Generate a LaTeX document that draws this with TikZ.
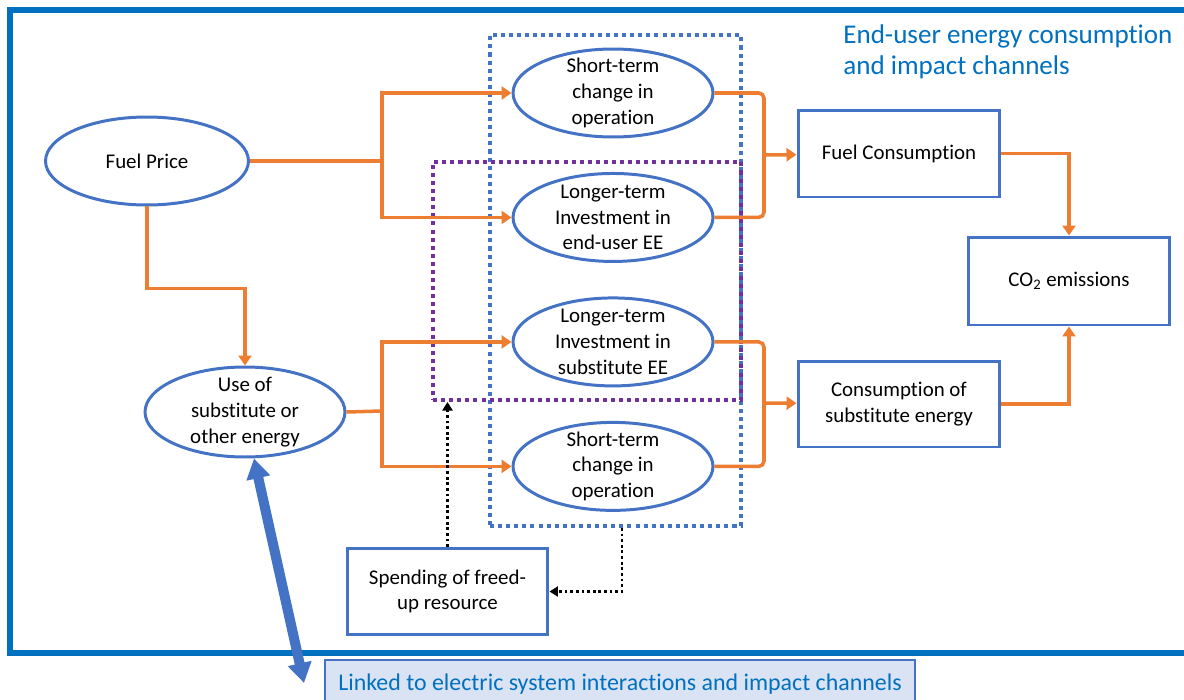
\documentclass[tikz,border=0pt]{standalone}
\usepackage{fontspec}
\setmainfont{Carlito}[Ligatures = NoCommon]
\usetikzlibrary{arrows.meta, positioning, shapes.geometric, calc}
\definecolor{OfficeBlue}{RGB}{68, 114, 196}
\definecolor{OfficeOrange}{RGB}{237, 125, 49}
\definecolor{OfficePurple}{RGB}{112, 48, 160}
\definecolor{FrameBlue}{RGB}{0, 112, 192}
\definecolor{LinkFill}{RGB}{218, 227, 243}

\begin{document}
\begin{tikzpicture}[
        x = 0.02cm, y = -0.02cm,
        oval/.style = {
            ellipse,
            draw = OfficeBlue,
            line width = 1.7pt,
            minimum width = 4cm,
            minimum height = 1.76cm,
            inner xsep = 0pt,
            inner ysep = -8pt,
            align = center,
            font = \fontsize{11.9}{14.7}\selectfont
        },
        box/.style = {
            rectangle,
            draw = OfficeBlue,
            line width = 1.7pt,
            minimum width = 4.04cm,
            minimum height = 1.74cm,
            align = center,
            font = \fontsize{11.9}{14.5}\selectfont
        },
        dotbox/.style = {
            rectangle,
            line width = 2.3pt,
            dash pattern = on 2.3pt off 2.3pt,
            inner sep = 0pt
        },
        fline/.style = {
            line width = 2pt,
            OfficeOrange
        },
        farr/.style = {
            fline,
            -{Triangle[length = 2mm, width = 2.6mm]}
        },
        darr/.style = {
            -{Triangle[length = 1.7mm, width = 2mm]},
            line width = 1.6pt,
            dash pattern = on 1.6pt off 1.6pt
        },
        barr/.style = {
            {Triangle[length = 4mm, width = 4.6mm]}-{Triangle[length = 4mm, width = 4.6mm]},
            line width = 0.2cm,
            OfficeBlue
        },
        node distance = 0.67cm
    ]
        \useasboundingbox (0,0) rectangle (1184,700);

        % frame and title
        \draw[FrameBlue, line width = 3.4pt] (1190,10) -| (10,653) -- (1190,653);
        \node[anchor = west, align = left, inner sep = 0pt, text = FrameBlue,
            font = \fontsize{15.4}{17.6}\selectfont] (title) at (843,52)
            {End-user energy consumption\\and impact channels};

        % dotted groups
        \node[dotbox, draw = OfficeBlue, minimum width = 5.02cm, minimum height = 9.82cm] (opbox) at (615.5,280.5) {};
        \node[dotbox, draw = OfficePurple, minimum width = 6.16cm, minimum height = 4.76cm] (eebox) at (587,281) {};

        % left side
        \node[oval, minimum width = 4.06cm] (fuel) at (147,161) {Fuel Price};
        \node[oval, minimum height = 1.8cm] (use) at (245,412) {Use of\\substitute or\\other energy};

        % response channels
        \node[oval] (st1) at (613,93) {Short-term\\change in\\operation};
        \node[oval, below = of st1] (lt1) {Longer-term\\Investment in\\end-user EE};
        \node[oval, below = of lt1] (lt2) {Longer-term\\Investment in\\substitute EE};
        \node[oval, below = of lt2] (st2) {Short-term\\change in\\operation};

        % outcomes
        \node[box] (fcons) at (899,153.5) {Fuel Consumption};
        \node[box, minimum height = 1.72cm] (subcons) at (899,404) {Consumption of\\substitute energy};
        \node[box, minimum height = 1.76cm] (co2) at (1069,281) {CO\textsubscript{2} emissions};
        \node[box, minimum width = 4.02cm, minimum height = 1.72cm] (spend) at (447.5,591.5) {Spending of freed-\\up resource};

        \node[rectangle, draw = OfficeBlue, line width = 1.2pt, fill = LinkFill, text = FrameBlue,
            minimum width = 11.8cm, minimum height = 0.96cm,
            font = \fontsize{13.6}{15}\selectfont] (link) at (620,684)
            {Linked to electric system interactions and impact channels};

        \coordinate (fork1) at (382,161);
        \coordinate (fork2) at (382,411);
        \coordinate (j1) at (764,155);
        \coordinate (j2) at (764,403);
        \coordinate (linkend) at (304,683);

        \draw[fline] (fuel.east) -- (fork1);
        \draw[farr] (fork1) |- (st1.west);
        \draw[farr] (fork1) |- (lt1.west);
        \draw[farr] (fuel.south) -- ++(0,82) -| (use.north);
        \draw[fline] (use.east) -- (fork2);
        \draw[farr] (fork2) |- (lt2.west);
        \draw[farr] (fork2) |- (st2.west);

        \draw[fline, rounded corners = 3pt] (st1.east) -| (j1) |- (lt1.east);
        \draw[fline, rounded corners = 3pt] (lt2.east) -| (j2) |- (st2.east);
        \draw[farr] (j1) -- (fcons);
        \draw[farr] (j2) -- (subcons);
        \draw[farr] (fcons.east) -| (co2.north);
        \draw[farr] (subcons.east) -| (co2.south);

        \draw[darr] (spend.north) -- (spend.north |- eebox.south);
        \draw[darr] ([xshift = 0.13cm]opbox.south) |- (spend.east);

        \draw[barr] ([xshift = 0.18cm]use.south) -- (linkend);
    \end{tikzpicture}
\end{document}
